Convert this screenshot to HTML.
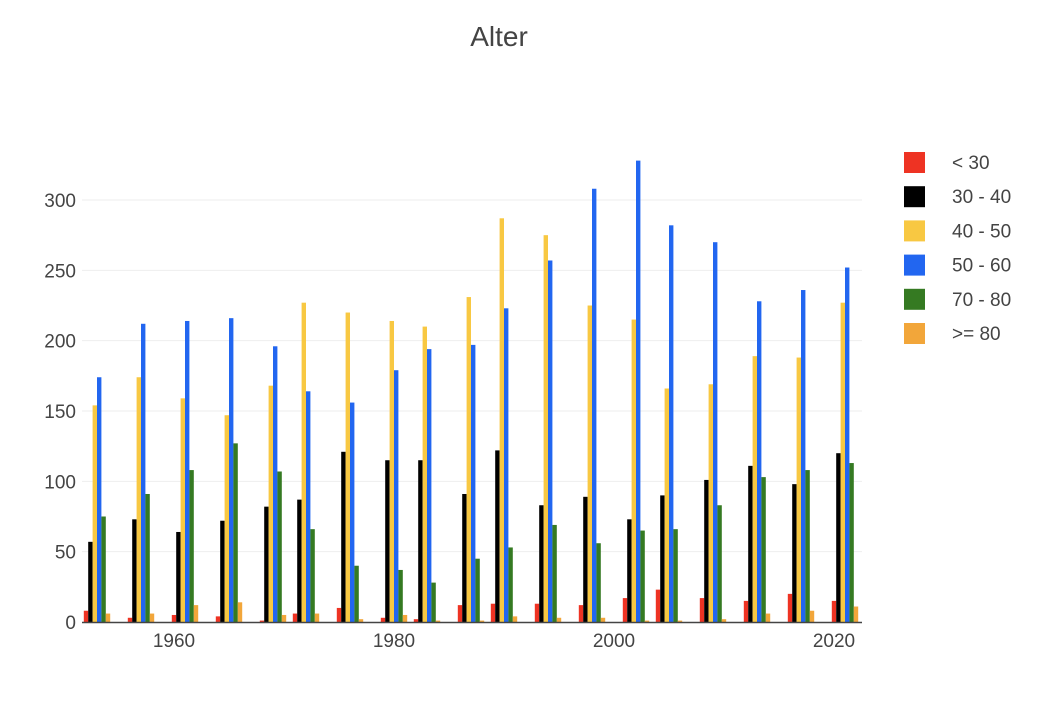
<!DOCTYPE html>
<html><head><meta charset="utf-8"><style>
body{margin:0;background:#fff;font-family:"Liberation Sans",sans-serif}
</style></head><body>
<svg id="c" width="1064" height="710" font-family="Liberation Sans, sans-serif">
<text x="499" y="46" text-anchor="middle" font-size="28" fill="#444">Alter</text>
<g id="grid"></g><g id="bars"></g><g id="axes"></g><g id="legend"></g>
</svg>
<script>
const years=[1953,1957,1961,1965,1969,1972,1976,1980,1983,1987,1990,1994,1998,2002,2005,2009,2013,2017,2021];
const seriesNames=["< 30","30 - 40","40 - 50","50 - 60","70 - 80",">= 80"];
const colors=["#ee3323","#000000","#f8c842","#2266f0","#357a22","#f2a63a"];
const s0=[8,3,5,4,1,6,10,3,2,12,13,13,12,17,23,17,15,20,15];
const s1=[57,73,64,72,82,87,121,115,115,91,122,83,89,73,90,101,111,98,120];
const s2=[154,174,159,147,168,227,220,214,210,231,287,275,225,215,166,169,189,188,227];
const s3=[174,212,214,216,196,164,156,179,194,197,223,257,308,328,282,270,228,236,252];
const s4=[75,91,108,127,107,66,40,37,28,45,53,69,56,65,66,83,103,108,113];
const s5=[6,6,12,14,5,6,2,5,1,1,4,3,3,1,1,2,6,8,11];
const yTicks=[0,50,100,150,200,250,300];
const xTicks=[1960,1980,2000,2020];
const series=[s0,s1,s2,s3,s4,s5];
const NS="http://www.w3.org/2000/svg";
const X0=82,X1=862,Y0=622;
const xs=y=>174+(y-1960)*11;
const ys=v=>Y0-v*(422/300);
function mk(t,a,p){const e=document.createElementNS(NS,t);for(const k in a)e.setAttribute(k,a[k]);p.appendChild(e);return e;}
const grid=document.getElementById('grid'),bars=document.getElementById('bars'),axes=document.getElementById('axes'),leg=document.getElementById('legend');
yTicks.forEach(v=>{
 if(v>0){const l=mk('line',{x1:X0,x2:X1,y1:ys(v),y2:ys(v),stroke:'#eee','stroke-width':1},grid);
 
 }
 const t=mk('text',{x:X0-6,y:ys(v)+7,'text-anchor':'end','font-size':19,fill:'#444'},axes);t.textContent=v;
 
 
});
xTicks.forEach(v=>{
 const t=mk('text',{x:xs(v),y:647,'text-anchor':'middle','font-size':19,fill:'#444'},axes);t.textContent=v;
 
 
});
const bw=4.4,gw=bw*6;
series.forEach((s,si)=>{
 s.forEach((v,i)=>{
  const x=xs(years[i])-gw/2+si*bw;
  const r=mk('rect',{x:x,y:ys(v),width:bw,height:Y0-ys(v),fill:colors[si]},bars);
  
  
 });
});
const ax=mk('line',{x1:X0,x2:X1,y1:Y0+0.5,y2:Y0+0.5,stroke:'#444','stroke-width':1.5},axes);


seriesNames.forEach((n,i)=>{
 const y=162+i*34.2;
 const r=mk('rect',{x:904,y:y-10,width:21,height:21,fill:colors[i]},leg);
 
 
 const t=mk('text',{x:952,y:y+7,'font-size':19,fill:'#444'},leg);t.textContent=n;
 
 
});
</script>
</body></html>
